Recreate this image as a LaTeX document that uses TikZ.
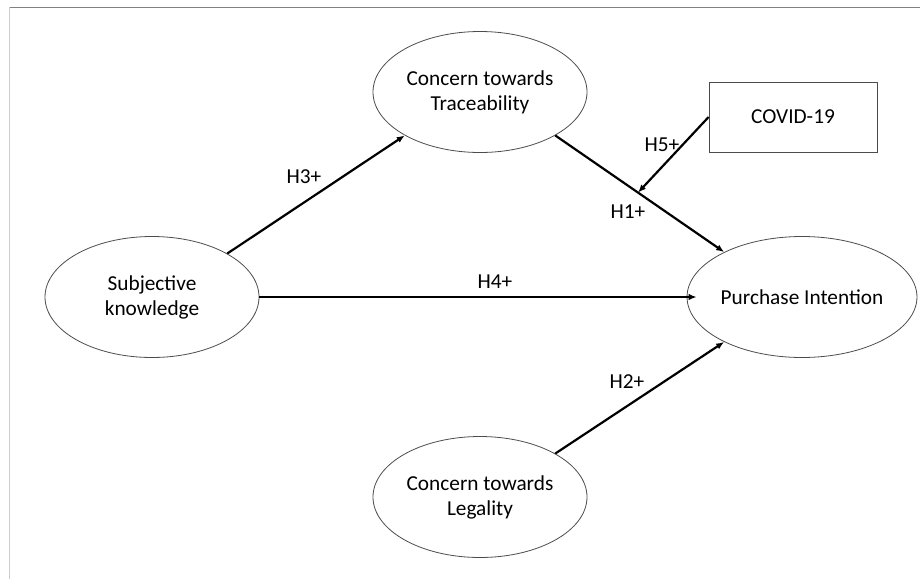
\documentclass[tikz,border=0pt]{standalone}
\usepackage{fontspec}
\setmainfont{Carlito}
\usetikzlibrary{arrows.meta,shapes.geometric,positioning}

\begin{document}
\begin{tikzpicture}
[x=1pt,y=-1pt,
latent/.style={ellipse,draw=black!70,line width=0.8pt,minimum width=214pt,minimum height=121pt,inner sep=0pt,align=center,font=\fontsize{21.3}{25}\selectfont},
observed/.style={rectangle,draw=black!70,line width=0.8pt,minimum width=168pt,minimum height=70pt,inner sep=0pt,font=\fontsize{21.3}{25}\selectfont},
hyp/.style={-{Latex[length=8pt,width=6.5pt]},line width=2.2pt,black},
hlabel/.style={inner sep=0pt,font=\fontsize{21.3}{25}\selectfont}]

\useasboundingbox (0,0) rectangle (920,579);
\fill[white] (0,0) rectangle (920,579);
\draw[black!50,line width=1pt] (9,7) -- (920,7);
\draw[black!20,line width=1pt] (9,7) -- (9,579);

\node[latent] (SK) at (152,297) {Subjective\\knowledge};
\node[latent] (CT) at (480,92) {Concern towards\\Traceability};
\node[latent] (CL) at (480,497) {Concern towards\\Legality};
\node[latent] (PI) at (802,297) {Purchase Intention};
\node[observed] (CV) at (793,117) {COVID-19};

\draw[hyp] (SK.30) -- (CT.210);
\draw[hyp] (CT.-30) -- coordinate[pos=0.49] (m1) (PI.150);
\draw[hyp,shorten >=-10pt] (SK.east) -- (PI.west);
\draw[hyp] (CL.30) -- (PI.210);
\draw[hyp] (CV.west) -- (m1);

\node[hlabel] (h3) at (304,177) {H3+};
\node[hlabel] (h1) at (628,212) {H1+};
\node[hlabel] (h5) at (662,145) {H5+};
\node[hlabel] (h4) at (495,282) {H4+};
\node[hlabel] (h2) at (627,382) {H2+};
\end{tikzpicture}
\end{document}
